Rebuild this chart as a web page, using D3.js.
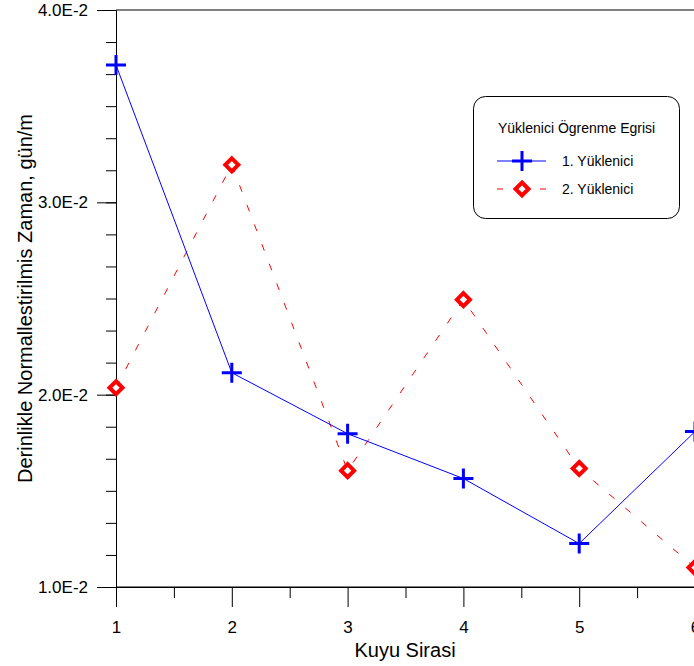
<!DOCTYPE html>
<html>
<head>
<meta charset="utf-8">
<script src="https://cdn.jsdelivr.net/npm/d3@7"></script>
<style>
  body { margin: 0; background: #fff; }
  svg { display: block; font-family: "Liberation Sans", Arial, sans-serif; }
</style>
</head>
<body>
<div class="chart"></div>
<script>
// kuyu sirasi (well order)
const wells = [1, 2, 3, 4, 5, 6];
const contractor1 = [0.03714, 0.02114, 0.01797, 0.01564, 0.01226, 0.01808];
const contractor2 = [0.02036, 0.03195, 0.01605, 0.02494, 0.01616, 0.01101];
const seriesNames = ['1. Yüklenici', '2. Yüklenici'];
const yTicks = [0.01, 0.02, 0.03, 0.04];
const xTicks = [1, 2, 3, 4, 5, 6];

const width = 694, height = 666;
const margin = {top: 10, left: 116, bottom: 79};

const svg = d3.select('.chart')
              .append('svg')
              .attr('width', width)
              .attr('height', height);

const xScale = d3.scaleLinear()
                 .domain([1, 6])
                 .range([margin.left, 695]);
const yScale = d3.scaleLinear()
                 .domain([0.01, 0.04])
                 .range([height - margin.bottom, margin.top]);

// minor ticks first, then the main axes on top
const yMinor = d3.range(0.01, 0.04, 0.01 / 6);
svg.append('g')
   .attr('transform', `translate(${margin.left},0)`)
   .call(d3.axisLeft(yScale).tickValues(yMinor).tickSize(10).tickFormat(''))
   .call(g => g.select('.domain').remove());

svg.append('g')
   .attr('transform', `translate(0,${yScale(0.01)})`)
   .call(d3.axisBottom(xScale).tickValues(d3.range(1.5, 6, 1)).tickSize(11).tickFormat(''))
   .call(g => g.select('.domain').remove());

svg.append('g')
   .attr('class', 'axis y-axis')
   .attr('transform', `translate(${margin.left},0)`)
   .call(d3.axisLeft(yScale).tickValues(yTicks).tickSize(19).tickPadding(9)
           .tickFormat(d => d.toExponential(1).toUpperCase()));

svg.append('g')
   .attr('class', 'axis x-axis')
   .attr('transform', `translate(0,${yScale(0.01)})`)
   .call(d3.axisBottom(xScale).tickValues(xTicks).tickSize(20).tickPadding(14)
           .tickFormat(d3.format('d')));

svg.selectAll('g').attr('font-family', null).attr('font-size', null);
svg.selectAll('.axis text').attr('font-size', 17).attr('fill', '#000');
svg.selectAll('.axis path.domain').attr('stroke', '#000');
svg.selectAll('.tick line').attr('stroke', '#000');

// frame lines (bottom and top) extend through the plot
svg.append('line')
   .attr('x1', margin.left).attr('x2', width)
   .attr('y1', yScale(0.04)).attr('y2', yScale(0.04))
   .attr('stroke', '#000');
svg.append('line')
   .attr('x1', margin.left).attr('x2', width)
   .attr('y1', yScale(0.01)).attr('y2', yScale(0.01))
   .attr('stroke', '#000');

// axis titles
svg.append('text')
   .attr('x', (xScale(1) + width) / 2)
   .attr('y', 657)
   .attr('text-anchor', 'middle')
   .attr('font-size', 20)
   .text('Kuyu Sirasi');

svg.append('text')
   .attr('transform', `translate(32,${(yScale(0.01) + yScale(0.04)) / 2}) rotate(-90)`)
   .attr('text-anchor', 'middle')
   .attr('font-size', 20)
   .text('Derinlikle Normallestirilmis Zaman, gün/m');

const line = d3.line()
               .x((d, i) => xScale(wells[i]))
               .y(d => yScale(d));

const plot = svg.append('g');

plot.append('path')
    .datum(contractor2)
    .attr('d', line)
    .attr('fill', 'none')
    .attr('stroke', '#ff0000')
    .attr('stroke-width', 1)
    .attr('stroke-dasharray', '7,14');

plot.append('path')
    .datum(contractor1)
    .attr('d', line)
    .attr('fill', 'none')
    .attr('stroke', '#0000ff')
    .attr('stroke-width', 1);

const plusPath = 'M-10,0H10M0,-10V10';
const diamondPath = 'M0,-6.5L6.5,0L0,6.5L-6.5,0Z';

plot.selectAll('.plus')
    .data(contractor1)
    .enter()
    .append('path')
    .attr('class', 'plus')
    .attr('transform', (d, i) => `translate(${xScale(wells[i])},${yScale(d)})`)
    .attr('d', plusPath)
    .attr('stroke', '#0000ff')
    .attr('stroke-width', 3);

plot.selectAll('.diamond')
    .data(contractor2)
    .enter()
    .append('path')
    .attr('class', 'diamond')
    .attr('transform', (d, i) => `translate(${xScale(wells[i])},${yScale(d)})`)
    .attr('d', diamondPath)
    .attr('fill', '#fff')
    .attr('stroke', '#ff0000')
    .attr('stroke-width', 4);

// legend
const legend = svg.append('g');
legend.append('rect')
      .attr('x', 473.5).attr('y', 96.5)
      .attr('width', 206).attr('height', 122)
      .attr('rx', 12).attr('ry', 12)
      .attr('fill', '#fff')
      .attr('stroke', '#000');
legend.append('text')
      .attr('x', 498).attr('y', 133)
      .attr('font-size', 14)
      .text('Yüklenici Ögrenme Egrisi');

const rows = [161, 189];
legend.append('line')
      .attr('x1', 497).attr('x2', 546)
      .attr('y1', rows[0]).attr('y2', rows[0])
      .attr('stroke', '#0000ff');
legend.append('path')
      .attr('transform', `translate(522,${rows[0]})`)
      .attr('d', plusPath)
      .attr('stroke', '#0000ff')
      .attr('stroke-width', 3);
legend.append('line')
      .attr('x1', 497).attr('x2', 546)
      .attr('y1', rows[1]).attr('y2', rows[1])
      .attr('stroke', '#ff0000')
      .attr('stroke-dasharray', '6,37');
legend.append('path')
      .attr('transform', `translate(522,${rows[1]})`)
      .attr('d', diamondPath)
      .attr('fill', '#fff')
      .attr('stroke', '#ff0000')
      .attr('stroke-width', 4);

legend.selectAll('.lbl')
      .data(seriesNames)
      .enter()
      .append('text')
      .attr('x', 562)
      .attr('y', (d, i) => rows[i] + 4.5)
      .attr('font-size', 14)
      .text(d => d);
</script>
</body>
</html>
